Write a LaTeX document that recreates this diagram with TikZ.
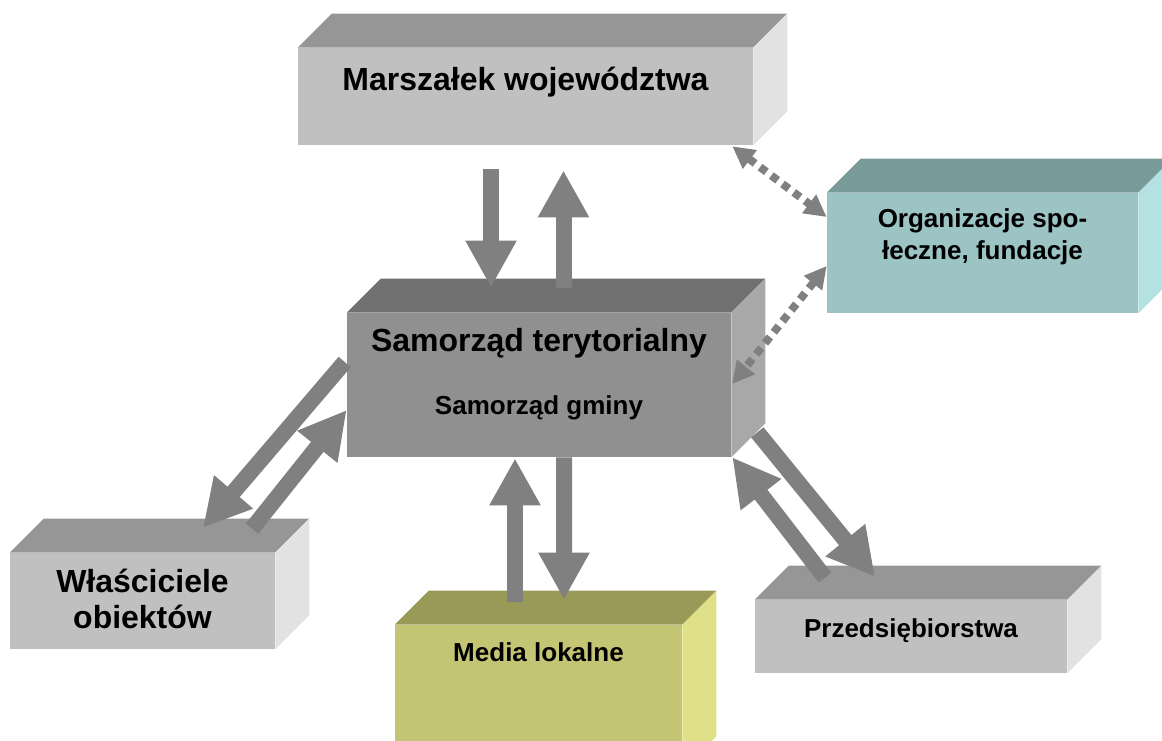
\documentclass[tikz,border=0pt]{standalone}
\usepackage{fontspec}
\setmainfont{Liberation Sans}
\usepackage{xcolor}
\usetikzlibrary{arrows.meta}

\definecolor{arrowgray}{HTML}{808080}
\definecolor{greyfront}{HTML}{C0C0C0}
\definecolor{greytop}{HTML}{969696}
\definecolor{greyside}{HTML}{E2E2E2}
\definecolor{darkfront}{HTML}{909090}
\definecolor{darktop}{HTML}{717171}
\definecolor{darkside}{HTML}{A8A8A8}
\definecolor{tealfront}{HTML}{9CC4C4}
\definecolor{tealtop}{HTML}{789A98}
\definecolor{tealside}{HTML}{B4E1E1}
\definecolor{olivefront}{HTML}{C4C475}
\definecolor{olivetop}{HTML}{999958}
\definecolor{oliveside}{HTML}{E0E088}

% top and right faces of a box node
\newcommand{\boxfaces}[3]{%
  \fill[#2] (#1.north west) -- ++(34,-34) -- ([shift={(34,-34)}]#1.north east) -- (#1.north east) -- cycle;
  \fill[#3] (#1.north east) -- ++(34,-34) -- ([shift={(34,-34)}]#1.south east) -- (#1.south east) -- cycle;
}

\begin{document}
\begin{tikzpicture}[
    x=0.02cm, y=-0.02cm,
    every node/.style={font=\bfseries, align=center, inner sep=0pt},
    block/.style={rectangle, draw=none, inner sep=0pt},
    bigtext/.style={font=\fontsize{18.2}{20.5}\selectfont\bfseries},
    midtext/.style={font=\fontsize{14.8}{18.2}\selectfont\bfseries},
    flow/.style={draw=arrowgray, line width=9.1pt, -{Triangle[length=26.8pt, width=27.3pt]}},
    dotflow/.style={draw=arrowgray, line width=4.5pt, dash pattern=on 4.5pt off 3.5pt, {Triangle[length=12.5pt, width=12.5pt]}-{Triangle[length=12.5pt, width=12.5pt]}}
]
\useasboundingbox (0,0) rectangle (1162,740);
\clip (0,0) rectangle (1162,740);

% Boxes
\node (marsz) [block, fill=greyfront, minimum width=9.1cm, minimum height=1.94cm] at (525.5,96.5) {};
\boxfaces{marsz}{greytop}{greyside}
\node (samo) [block, fill=darkfront, minimum width=7.68cm, minimum height=2.88cm] at (539,385) {};
\boxfaces{samo}{darktop}{darkside}
\node (org) [block, fill=tealfront, minimum width=6.22cm, minimum height=2.4cm] at (982.5,253) {};
\boxfaces{org}{tealtop}{tealside}
\node (wlasc) [block, fill=greyfront, minimum width=5.3cm, minimum height=1.92cm] at (142.5,601) {};
\boxfaces{wlasc}{greytop}{greyside}
\node (media) [block, fill=olivefront, minimum width=5.74cm, minimum height=2.9cm] at (538.5,697.5) {};
\boxfaces{media}{olivetop}{oliveside}
\node (przed) [block, fill=greyfront, minimum width=6.24cm, minimum height=1.46cm] at (911,636.5) {};
\boxfaces{przed}{greytop}{greyside}

% Texts
\node (marsz_txt) [bigtext, anchor=base] at ([shift={(0,43)}]marsz.north) {Marszałek województwa};
\node (samo_txt) [bigtext, anchor=base] at ([shift={(0,39)}]samo.north) {Samorząd terytorialny};
\node (samo_sub) [midtext, anchor=base] at ([shift={(0,102)}]samo.north) {Samorząd gminy};
\node (org_txt) [midtext, anchor=base] at ([shift={(0,67)}]org.north) {Organizacje spo-\\łeczne, fundacje};
\node (wlasc_txt) [bigtext, anchor=base] at ([shift={(0,76)}]wlasc.north) {Właściciele\\obiektów};
\node (media_txt) [midtext, anchor=base] at ([shift={(0,37)}]media.north) {Media lokalne};
\node (przed_txt) [midtext, anchor=base] at ([shift={(0,38)}]przed.north) {Przedsiębiorstwa};

% Block arrows
\draw [flow] ([shift={(-34.5,24)}]marsz.south) -- ([shift={(-48,-25)}]samo.north);
\draw [flow] ([shift={(24.5,-25)}]samo.north) -- ([shift={(38,25)}]marsz.south);
\draw [flow] ([shift={(25,0)}]samo.south) -- ([shift={(25.5,-25)}]media.north);
\draw [flow] ([shift={(-23.5,-23)}]media.north) -- ([shift={(-24,1)}]samo.south);
\draw [flow] ([shift={(-2,-23)}]samo.west) -- ([shift={(60.5,-25)}]wlasc.north);
\draw [flow] ([shift={(109.5,-24)}]wlasc.north) -- ([shift={(0,25)}]samo.west);
\draw [flow] ([shift={(26,-25)}]samo.south east) -- ([shift={(-36,-23)}]przed.north);
\draw [flow] ([shift={(-86,-22)}]przed.north) -- ([shift={(1,0)}]samo.south east);

% Dotted links
\draw [dotflow] ([shift={(-21,1)}]marsz.south east) -- ([shift={(0,-36)}]org.west);
\draw [dotflow] ([shift={(0,13)}]org.west) -- ([shift={(1,-1)}]samo.east);

\end{tikzpicture}
\end{document}
